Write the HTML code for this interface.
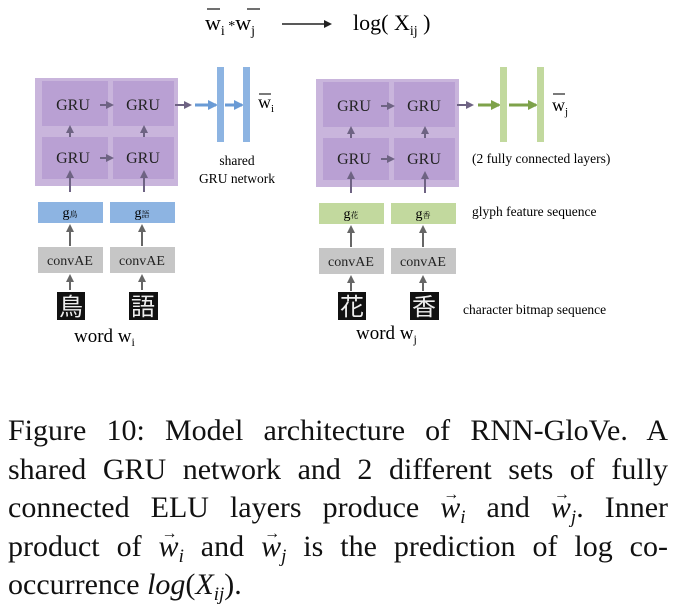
<!DOCTYPE html>
<html><head><meta charset="utf-8"><style>
body{margin:0;width:676px;height:601px;background:#fff;overflow:hidden;font-family:"Liberation Serif","Noto Serif CJK SC",serif;}
.cap{position:absolute;left:8px;width:660px;font-size:30px;color:#111;}
.cap div{height:38.6px;line-height:38.6px;text-align:justify;text-align-last:justify;white-space:nowrap;}
.cap div.last{text-align-last:left;}
i{font-style:italic}
.v{position:relative;display:inline-block;}
.v b{position:absolute;left:3px;top:-13px;font-size:16px;font-weight:normal;font-style:normal;}
sub{font-size:19px;vertical-align:-6px;line-height:0}
</style></head><body>
<svg width="676" height="400" style="position:absolute;left:0;top:0" font-family="Liberation Serif, Noto Serif CJK SC, serif">
<defs>
<marker id="ag" markerWidth="8" markerHeight="8" refX="6" refY="4" orient="auto" markerUnits="userSpaceOnUse"><path d="M0,0 L8,4 L0,8 z" fill="#6e6383"/></marker>
<marker id="ab" markerWidth="10" markerHeight="10" refX="8" refY="5" orient="auto" markerUnits="userSpaceOnUse"><path d="M0,0 L10,5 L0,10 z" fill="#6a9bd5"/></marker>
<marker id="agr" markerWidth="10" markerHeight="10" refX="8" refY="5" orient="auto" markerUnits="userSpaceOnUse"><path d="M0,0 L10,5 L0,10 z" fill="#7ea24a"/></marker>
<marker id="ak" markerWidth="8" markerHeight="8" refX="6" refY="4" orient="auto" markerUnits="userSpaceOnUse"><path d="M0,0 L8,4 L0,8 z" fill="#666"/></marker>
</defs>
<text x="205" y="30" font-size="22">w<tspan font-size="14" dy="5">i</tspan><tspan dy="-5" font-size="14"> *</tspan>w<tspan font-size="14" dy="5">j</tspan></text>
<line x1="207" y1="9" x2="220" y2="9" stroke="#222" stroke-width="1.3"/>
<line x1="247" y1="9" x2="260" y2="9" stroke="#222" stroke-width="1.3"/>
<line x1="282" y1="24" x2="328" y2="24" stroke="#222" stroke-width="1.5"/>
<path d="M324,20 L332,24 L324,28 z" fill="#222"/>
<text x="353" y="30" font-size="22">log( X<tspan font-size="14" dy="5">ij</tspan><tspan dy="-5"> )</tspan></text>

<g id="L">
<rect x="35" y="78" width="143" height="108" fill="#c9b5dc"/>
<rect x="42" y="81" width="66" height="45" fill="#b9a0d3"/>
<rect x="113" y="81" width="61" height="45" fill="#b9a0d3"/>
<rect x="42" y="137" width="66" height="42" fill="#b9a0d3"/>
<rect x="113" y="137" width="61" height="42" fill="#b9a0d3"/>
<text x="73" y="110" font-size="16" text-anchor="middle" fill="#222">GRU</text>
<text x="143" y="110" font-size="16" text-anchor="middle" fill="#222">GRU</text>
<text x="73" y="163" font-size="16" text-anchor="middle" fill="#222">GRU</text>
<text x="143" y="163" font-size="16" text-anchor="middle" fill="#222">GRU</text>
<line x1="100" y1="105" x2="112" y2="105" stroke="#6e6383" stroke-width="2" marker-end="url(#ag)"/>
<line x1="100" y1="158" x2="112" y2="158" stroke="#6e6383" stroke-width="2" marker-end="url(#ag)"/>
<line x1="70" y1="137" x2="70" y2="127" stroke="#6e6383" stroke-width="2" marker-end="url(#ag)"/>
<line x1="144" y1="137" x2="144" y2="127" stroke="#6e6383" stroke-width="2" marker-end="url(#ag)"/>
<line x1="70" y1="192" x2="70" y2="172" stroke="#6e6383" stroke-width="2" marker-end="url(#ag)"/>
<line x1="144" y1="192" x2="144" y2="172" stroke="#6e6383" stroke-width="2" marker-end="url(#ag)"/>
<rect x="38" y="202" width="65" height="21" fill="#8db4e2"/>
<rect x="110" y="202" width="65" height="21" fill="#8db4e2"/>
<text x="70" y="217" font-size="14" text-anchor="middle">g<tspan font-size="8">鳥</tspan></text>
<text x="142" y="217" font-size="14" text-anchor="middle">g<tspan font-size="8">語</tspan></text>
<line x1="70" y1="246" x2="70" y2="226" stroke="#666" stroke-width="2" marker-end="url(#ak)"/>
<line x1="142" y1="246" x2="142" y2="226" stroke="#666" stroke-width="2" marker-end="url(#ak)"/>
<rect x="38" y="247" width="65" height="26" fill="#c6c6c6"/>
<rect x="110" y="247" width="65" height="26" fill="#c6c6c6"/>
<text x="70" y="265" font-size="14" text-anchor="middle" fill="#222">convAE</text>
<text x="142" y="265" font-size="14" text-anchor="middle" fill="#222">convAE</text>
<line x1="70" y1="290" x2="70" y2="276" stroke="#666" stroke-width="2" marker-end="url(#ak)"/>
<line x1="142" y1="290" x2="142" y2="276" stroke="#666" stroke-width="2" marker-end="url(#ak)"/>
</g>
<rect x="57" y="292" width="28" height="28" fill="#111"/>
<rect x="129" y="292" width="29" height="28" fill="#111"/>
<text x="71" y="315" font-size="24" fill="#eee" text-anchor="middle" font-family="Noto Sans CJK JP, sans-serif">鳥</text>
<text x="143" y="315" font-size="24" fill="#eee" text-anchor="middle" font-family="Noto Sans CJK JP, sans-serif">語</text>
<text x="74" y="342" font-size="19">word w<tspan font-size="12" dy="4">i</tspan></text>
<line x1="175" y1="105" x2="190" y2="105" stroke="#6e6383" stroke-width="2" marker-end="url(#ag)"/>
<line x1="195" y1="105" x2="216" y2="105" stroke="#6a9bd5" stroke-width="3" marker-end="url(#ab)"/>
<line x1="225" y1="105" x2="242" y2="105" stroke="#6a9bd5" stroke-width="3" marker-end="url(#ab)"/>
<rect x="217" y="67" width="7" height="75" fill="#8db4e2"/>
<rect x="243" y="67" width="7" height="75" fill="#8db4e2"/>
<text x="258" y="108" font-size="18">w<tspan font-size="11" dy="4">i</tspan></text>
<line x1="259" y1="94" x2="271" y2="94" stroke="#222" stroke-width="1.2"/>
<text x="237" y="165" font-size="13.5" text-anchor="middle">shared</text>
<text x="237" y="183" font-size="13.5" text-anchor="middle">GRU network</text>

<use href="#L" x="281" y="1"/>
<rect x="319" y="203" width="65" height="21" fill="#c2d99e"/>
<rect x="391" y="203" width="65" height="21" fill="#c2d99e"/>
<text x="351" y="218" font-size="14" text-anchor="middle">g<tspan font-size="8">花</tspan></text>
<text x="423" y="218" font-size="14" text-anchor="middle">g<tspan font-size="8">香</tspan></text>
<rect x="338" y="292" width="28" height="28" fill="#111"/>
<rect x="410" y="292" width="29" height="28" fill="#111"/>
<text x="352" y="315" font-size="24" fill="#eee" text-anchor="middle" font-family="Noto Sans CJK JP, sans-serif">花</text>
<text x="424" y="315" font-size="24" fill="#eee" text-anchor="middle" font-family="Noto Sans CJK JP, sans-serif">香</text>
<text x="356" y="339" font-size="19">word w<tspan font-size="12" dy="4">j</tspan></text>
<line x1="457" y1="105" x2="472" y2="105" stroke="#6e6383" stroke-width="2" marker-end="url(#ag)"/>
<line x1="478" y1="105" x2="499" y2="105" stroke="#7ea24a" stroke-width="3" marker-end="url(#agr)"/>
<line x1="509" y1="105" x2="536" y2="105" stroke="#7ea24a" stroke-width="3" marker-end="url(#agr)"/>
<rect x="500" y="67" width="7" height="75" fill="#c2d99e"/>
<rect x="537" y="67" width="7" height="75" fill="#c2d99e"/>
<text x="552" y="111" font-size="18">w<tspan font-size="11" dy="4">j</tspan></text>
<line x1="553" y1="94" x2="565" y2="94" stroke="#222" stroke-width="1.2"/>
<text x="472" y="163" font-size="13.5">(2 fully connected layers)</text>
<text x="472" y="216" font-size="13.5">glyph feature sequence</text>
<text x="463" y="314" font-size="13.5">character bitmap sequence</text>
</svg>
<div class="cap" style="top:412px">
<div>Figure 10: Model architecture of RNN-GloVe. A</div>
<div>shared GRU network and 2 different sets of fully</div>
<div>connected ELU layers produce <span class="v"><i>w</i><b>→</b></span><sub><i>i</i></sub> and <span class="v"><i>w</i><b>→</b></span><sub><i>j</i></sub>. Inner</div>
<div>product of <span class="v"><i>w</i><b>→</b></span><sub><i>i</i></sub> and <span class="v"><i>w</i><b>→</b></span><sub><i>j</i></sub> is the prediction of log co-</div>
<div class="last">occurrence <i>log</i>(<i>X</i><sub><i>ij</i></sub>).</div>
</div>
</body></html>
